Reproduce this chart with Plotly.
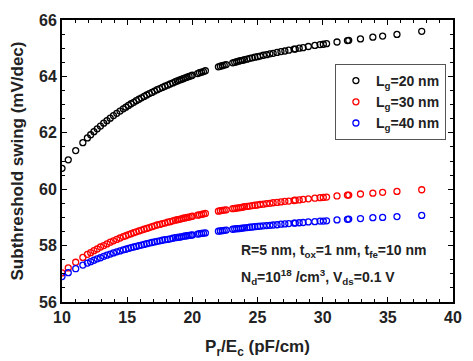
import plotly.graph_objects as go

# Pr/Ec sweep (pF/cm) shared by all three gate lengths
pr_ec = [
    10.0, 10.48, 11.05, 11.6, 11.95, 12.2, 12.45, 12.7, 12.95, 13.2, 13.45, 13.7, 13.95,
    14.2, 14.45, 14.7, 14.9, 15.1, 15.3, 15.5, 15.7, 15.9, 16.1, 16.3, 16.5, 16.7, 16.9,
    17.1, 17.3, 17.5, 17.7, 17.9, 18.1, 18.3, 18.5, 18.7, 18.85, 19.0, 19.15, 19.3, 19.45,
    19.6, 19.75, 19.9, 20.0,
    20.4, 20.55, 20.7, 20.85, 21.0,
    22.0, 22.15, 22.3, 22.45, 22.6,
    23.1, 23.25, 23.4, 23.55, 23.7, 23.85, 24.0, 24.2, 24.4, 24.6, 24.8, 25.0, 25.2,
    25.45, 25.7, 25.95, 26.2, 26.5, 26.8, 27.1, 27.4, 27.8, 27.9, 28.2, 28.5, 28.9, 29.4,
    29.8, 30.05, 30.3, 31.1, 31.9, 32.0, 32.9, 33.85, 34.6, 35.7, 37.6,
]

ss_lg20 = [
    60.74, 61.04, 61.37, 61.65, 61.82, 61.93, 62.04, 62.14, 62.24, 62.34, 62.43, 62.52, 62.61,
    62.69, 62.77, 62.85, 62.91, 62.97, 63.03, 63.08, 63.14, 63.19, 63.24, 63.29, 63.34, 63.39, 63.43,
    63.48, 63.53, 63.57, 63.61, 63.65, 63.69, 63.73, 63.77, 63.81, 63.84, 63.87, 63.89, 63.92, 63.95,
    63.97, 64.00, 64.02, 64.04,
    64.10, 64.13, 64.15, 64.17, 64.20,
    64.34, 64.36, 64.38, 64.40, 64.42,
    64.48, 64.50, 64.52, 64.54, 64.56, 64.57, 64.59, 64.61, 64.64, 64.66, 64.68, 64.70, 64.72,
    64.75, 64.77, 64.80, 64.82, 64.85, 64.88, 64.90, 64.93, 64.97, 64.97, 65.00, 65.02, 65.06, 65.10,
    65.13, 65.14, 65.16, 65.22, 65.27, 65.28, 65.33, 65.39, 65.43, 65.49, 65.60,
]

ss_lg30 = [
    57.03, 57.21, 57.41, 57.58, 57.69, 57.75, 57.82, 57.88, 57.95, 58.00, 58.06, 58.12, 58.17,
    58.22, 58.27, 58.32, 58.35, 58.39, 58.42, 58.46, 58.49, 58.52, 58.55, 58.58, 58.61, 58.64, 58.67,
    58.70, 58.73, 58.75, 58.78, 58.80, 58.83, 58.85, 58.88, 58.90, 58.92, 58.93, 58.95, 58.97, 58.98,
    59.00, 59.01, 59.03, 59.04,
    59.08, 59.09, 59.11, 59.12, 59.14,
    59.22, 59.24, 59.25, 59.26, 59.27,
    59.31, 59.32, 59.33, 59.34, 59.35, 59.36, 59.38, 59.39, 59.40, 59.42, 59.43, 59.44, 59.46,
    59.47, 59.49, 59.50, 59.52, 59.53, 59.55, 59.57, 59.58, 59.60, 59.61, 59.62, 59.64, 59.66, 59.68,
    59.70, 59.71, 59.72, 59.76, 59.79, 59.79, 59.83, 59.86, 59.89, 59.92, 59.98,
]

ss_lg40 = [
    56.90, 57.04, 57.18, 57.31, 57.38, 57.43, 57.48, 57.53, 57.57, 57.62, 57.66, 57.70, 57.74,
    57.78, 57.81, 57.85, 57.87, 57.90, 57.93, 57.95, 57.97, 58.00, 58.02, 58.04, 58.07, 58.09, 58.11,
    58.13, 58.15, 58.17, 58.19, 58.21, 58.22, 58.24, 58.26, 58.28, 58.29, 58.30, 58.31, 58.33, 58.34,
    58.35, 58.36, 58.37, 58.38,
    58.41, 58.42, 58.43, 58.44, 58.45,
    58.51, 58.52, 58.53, 58.54, 58.55,
    58.58, 58.59, 58.60, 58.60, 58.61, 58.62, 58.63, 58.64, 58.65, 58.66, 58.67, 58.68, 58.69,
    58.70, 58.71, 58.72, 58.73, 58.74, 58.76, 58.77, 58.78, 58.80, 58.80, 58.81, 58.82, 58.84, 58.85,
    58.87, 58.87, 58.88, 58.91, 58.93, 58.94, 58.96, 58.99, 59.00, 59.03, 59.07,
]

series = [
    ("L<sub>g</sub>=20 nm", ss_lg20, "#000000"),
    ("L<sub>g</sub>=30 nm", ss_lg30, "#ff0000"),
    ("L<sub>g</sub>=40 nm", ss_lg40, "#0000ff"),
]

X_RANGE = [10, 40]
Y_RANGE = [56, 66]
FONT = "Liberation Sans"
INK = "black"

fig = go.Figure()
for name, ys, color in series:
    fig.add_trace(go.Scatter(
        x=pr_ec, y=ys, name=f"<b>{name}</b>", mode="markers",
        marker=dict(symbol="circle-open", size=6, color=color, line=dict(width=1.3, color=color)),
    ))

axis_common = dict(
    showgrid=False, zeroline=False, automargin=False,
    showline=True, linecolor=INK, linewidth=2, mirror="allticks",
    ticks="inside", ticklen=5, tickcolor=INK,
    tickfont=dict(family=FONT, size=16, color="#222222", weight="bold"),
)

fig.update_layout(
    width=473, height=361,
    # page body adds ~8px offset, so margins are trimmed by that amount
    margin=dict(l=54, r=28, t=12, b=67, autoexpand=False),
    paper_bgcolor="white", plot_bgcolor="white",
    font=dict(family=FONT, color="#222222"),
    xaxis=dict(
        range=X_RANGE, dtick=5,
        minor=dict(dtick=1, ticks="inside", ticklen=3, tickcolor=INK),
        title=dict(text="<b>P<sub>r</sub>/E<sub>c</sub> (pF/cm)</b>",
                   font=dict(family=FONT, size=17, color="#222222")),
        **axis_common,
    ),
    yaxis=dict(
        range=Y_RANGE, dtick=2,
        minor=dict(dtick=0.5, ticks="inside", ticklen=3, tickcolor=INK),
        title=dict(text="<b>Subthreshold swing (mV/dec)</b>",
                   font=dict(family=FONT, size=17, color="#222222")),
        **axis_common,
    ),
    legend=dict(
        x=0.698, y=0.844, xanchor="left", yanchor="top",
        bgcolor="white", bordercolor="#555555", borderwidth=1,
        font=dict(family=FONT, size=14, color="#222222"),
        tracegroupgap=2,
    ),
)

fig.add_annotation(
    x=0.453, y=0.182, xref="paper", yref="paper", xanchor="left", yanchor="middle",
    text="<b>R=5 nm, t<sub>ox</sub>=1 nm, t<sub>fe</sub>=10 nm</b>", showarrow=False,
    font=dict(family=FONT, size=14, color="#222222"),
)
fig.add_annotation(
    x=0.453, y=0.089, xref="paper", yref="paper", xanchor="left", yanchor="middle",
    text="<b>N<sub>d</sub>=10<sup>18</sup> /cm<sup>3</sup>, V<sub>ds</sub>=0.1 V</b>", showarrow=False,
    font=dict(family=FONT, size=14, color="#222222"),
)

fig.write_html("out.html")
